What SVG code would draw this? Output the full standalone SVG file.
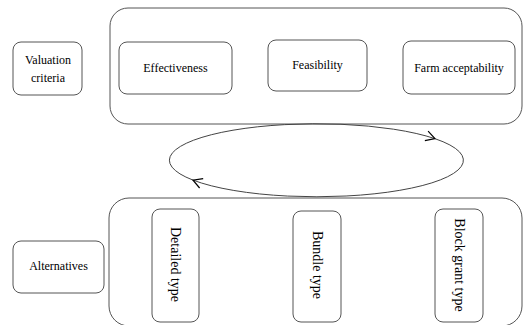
<svg xmlns="http://www.w3.org/2000/svg" width="523" height="325" viewBox="0 0 523 325">
<defs>
<style>
.box{fill:#fff;stroke:#555;stroke-width:1}
.grp{fill:none;stroke:#555;stroke-width:1}
.t{font-family:"Liberation Serif","Times New Roman",serif;font-size:12px;fill:#000;text-anchor:middle}
.v{font-family:"Liberation Serif","Times New Roman",serif;font-size:14px;fill:#000;text-anchor:middle;dominant-baseline:central}
.conn{fill:none;stroke:#444;stroke-width:1}
</style>
<marker id="arr" markerUnits="userSpaceOnUse" markerWidth="14" markerHeight="14" refX="10" refY="6" orient="auto">
<path d="M1,1 L10,6 L1,11" fill="none" stroke="#000" stroke-width="1.2"/>
</marker>
</defs>
<g id="criteria-group"><rect class="grp" x="110" y="8" width="412" height="116" rx="18"/></g>
<g id="alternatives-group"><rect class="grp" x="109" y="198" width="413" height="128" rx="20"/></g>
<g id="valuation-criteria"><rect class="box" x="13" y="42" width="69" height="53" rx="8"/>
<text class="t" x="48" y="64">Valuation</text><text class="t" x="48" y="82">criteria</text></g>
<g id="effectiveness"><rect class="box" x="119" y="42" width="113" height="52" rx="8"/><text class="t" x="175.5" y="72">Effectiveness</text></g>
<g id="feasibility"><rect class="box" x="268" y="40" width="99" height="51" rx="8"/><text class="t" x="317.5" y="69">Feasibility</text></g>
<g id="farm-acceptability"><rect class="box" x="403" y="41" width="112" height="53" rx="8"/><text class="t" x="459" y="72">Farm acceptability</text></g>
<g id="alternatives"><rect class="box" x="13" y="241" width="91" height="52" rx="8"/><text class="t" x="58.5" y="270">Alternatives</text></g>
<g id="detailed-type"><rect class="box" x="152" y="209" width="47" height="113" rx="8"/><text class="v" x="175.5" y="264.5" transform="rotate(90 175.5 264.5)">Detailed type</text></g>
<g id="bundle-type"><rect class="box" x="293" y="211" width="48" height="111" rx="8"/><text class="v" x="317" y="265" transform="rotate(90 317 265)">Bundle type</text></g>
<g id="block-grant-type"><rect class="box" x="435" y="209" width="48" height="113" rx="8"/><text class="v" x="459" y="265" transform="rotate(90 459 265)">Block grant type</text></g>
<g id="connectors">
<path class="conn" d="M193,180.1 A147,36.5 0 0 1 435,138.7" marker-end="url(#arr)"/>
<path class="conn" d="M435,138.7 A147,36.5 0 1 1 193,180.1" marker-end="url(#arr)"/>
</g>
</svg>
